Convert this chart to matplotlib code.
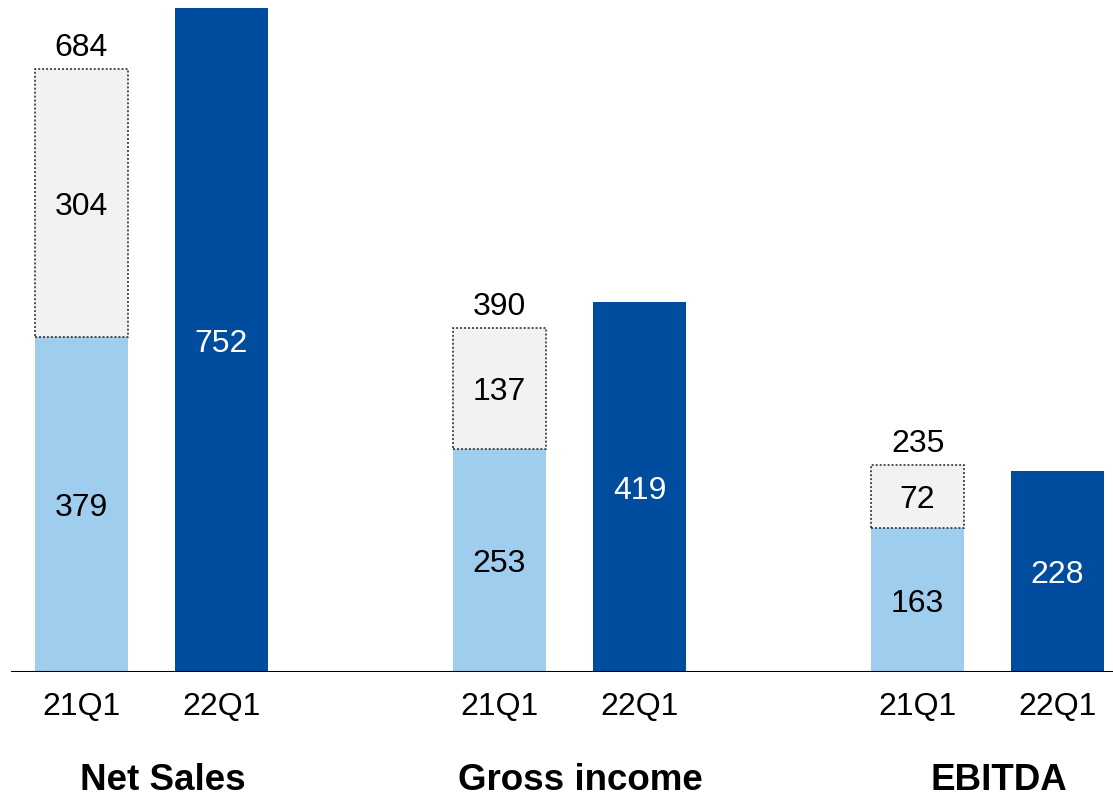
import matplotlib.pyplot as plt
from matplotlib.patches import Rectangle

plt.rcParams['font.family'] = ['Liberation Sans', 'DejaVu Sans']

groups = ['Net Sales', 'Gross income', 'EBITDA']
periods = ['21Q1', '22Q1']
base_21 = [379, 253, 163]     # 21Q1 comparable part
extra_21 = [304, 137, 72]     # 21Q1 remaining part (dotted box)
total_21 = [684, 390, 235]
value_22 = [752, 419, 228]

light_blue = '#9fcdee'
dark_blue = '#004c9e'
grey = '#f2f2f2'

fig = plt.figure(figsize=(11.13, 7.97), dpi=100)
ax = fig.add_axes([0, 125 / 797, 1, 664 / 797])


def inner_label(x, y, s, color='black'):
    # baseline-anchored so the digits sit visually centred on y
    ax.annotate(s, (x, y), xytext=(0, -8.3), textcoords='offset points',
                ha='center', va='baseline', fontsize=23, color=color)


width = 0.665
step = 2.986
for g, name in enumerate(groups):
    x1 = step * g
    x2 = step * g + 1
    ax.bar(x1, base_21[g], width, color=light_blue, zorder=2)
    ax.bar(x1, extra_21[g], width, bottom=base_21[g], color=grey, zorder=2)
    ax.add_patch(Rectangle((x1 - width / 2, base_21[g]), width, extra_21[g],
                           fill=False, edgecolor='#222222', linestyle=(0, (1.3, 1.3)),
                           linewidth=1.1, zorder=3))
    ax.bar(x2, value_22[g], width, color=dark_blue, zorder=2)

    inner_label(x1, base_21[g] / 2, str(base_21[g]))
    inner_label(x1, base_21[g] + extra_21[g] / 2, str(extra_21[g]))
    ax.annotate(str(total_21[g]), (x1, total_21[g]), xytext=(0, 9), textcoords='offset points',
                ha='center', va='baseline', fontsize=23)
    inner_label(x2, value_22[g] / 2, str(value_22[g]), color='white')

    for j, p in enumerate(periods):
        ax.annotate(p, (step * g + j, 0), xytext=(0, -25.5), textcoords='offset points',
                    ha='center', va='center', fontsize=23, annotation_clip=False)
    # group title, baseline placed a little above the bottom edge
    ax.annotate(name, (step * g + 0.58, 0), xytext=(0, -85), textcoords='offset points',
                ha='center', va='baseline', fontsize=26.5, fontweight='bold', annotation_clip=False)

ax.set_xlim(-81.5 / 140, (1113 - 81.5) / 140)
ax.set_ylim(0, 752)
ax.axhline(0, xmin=12 / 1113, xmax=1, color='black', linewidth=1.5, zorder=4)
ax.axis('off')

fig.savefig('out.png', dpi=100)
